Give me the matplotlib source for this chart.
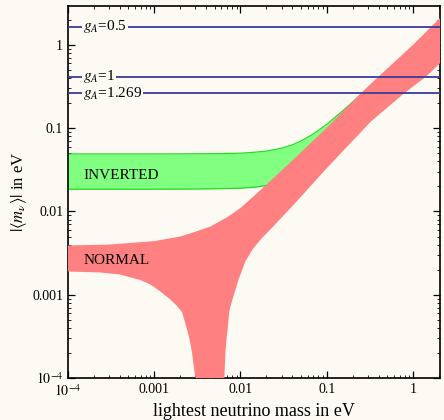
"""Effective Majorana mass vs lightest neutrino mass (normal / inverted bands)."""

import matplotlib

matplotlib.use("Agg")
import matplotlib.pyplot as plt

# --- data (eV) ---
inv_m = [1e-4, 1e-3, 0.003, 0.006, 0.01, 0.015, 0.02, 0.03, 0.04, 0.05, 0.07,
         0.1, 0.15, 0.2, 0.25, 0.35]
inv_hi = [0.049, 0.049, 0.0492, 0.0495, 0.050, 0.0515, 0.053, 0.0575, 0.063,
          0.07, 0.085, 0.111, 0.158, 0.206, 0.255, 0.353]
inv_lo = [0.0185, 0.0185, 0.0186, 0.0188, 0.019, 0.0196, 0.0205, 0.023, 0.026,
          0.03, 0.038, 0.05, 0.07, 0.09, 0.11, 0.16]

nor_top_m = [1e-4, 3e-4, 1e-3, 0.002, 0.003, 0.0045, 0.007, 0.01, 0.014, 0.02,
             0.03, 0.05, 0.1, 0.248, 0.4, 1.0, 2.06]
nor_top = [0.0039, 0.0040, 0.0044, 0.0050, 0.0057, 0.0066, 0.0085, 0.011, 0.015,
           0.021, 0.031, 0.051, 0.101, 0.261, 0.416, 1.0, 2.1]

# lower edge, left branch (down into the cancellation funnel)
nor_lo_l_m = [1e-4, 2.35e-4, 4e-4, 6.9e-4, 9e-4, 1.17e-3, 1.53e-3, 1.8e-3, 2.1e-3,
              2.4e-3, 2.57e-3, 2.74e-3, 2.85e-3, 3.0e-3]
nor_lo_l = [0.0019, 0.00185, 0.00175, 0.0015, 0.00133, 0.0011, 0.00088, 0.00075,
            0.00062, 0.000386, 0.00029, 0.000205, 0.000146, 1e-4]
# lower edge, right branch (up out of the funnel)
nor_lo_r_m = [0.0065, 0.0066, 0.0067, 0.0069, 0.0071, 0.0074, 0.0078, 0.0083,
              0.0095, 0.0114, 0.0138, 0.0171, 0.0223, 0.04, 0.1, 0.325, 0.785,
              1.42, 2.06]
nor_lo_r = [1e-4, 0.000146, 0.000205, 0.0003, 0.000386, 0.00062, 0.00078, 0.00096,
            0.00152, 0.00252, 0.0035, 0.0046, 0.0061, 0.0116, 0.033, 0.12, 0.261,
            0.416, 0.6]

ga_values = [1.64, 0.416, 0.261]
ga_labels = ["0.5", "1", "1.269"]

x_ticks = [1e-4, 1e-3, 1e-2, 1e-1, 1]
x_ticklabels = [r"$10^{-4}$", "0.001", "0.01", "0.1", "1"]
y_ticks = [1e-4, 1e-3, 1e-2, 1e-1, 1]
y_ticklabels = [r"$10^{-4}$", "0.001", "0.01", "0.1", "1"]

BG = "#fcfaf2"

plt.rcParams["font.family"] = ["Liberation Serif", "DejaVu Serif"]
plt.rcParams["mathtext.fontset"] = "stix"

fig = plt.figure(figsize=(4.44, 4.2), dpi=100, facecolor=BG)
ax = fig.add_axes([68 / 444, 42 / 420, 372 / 444, 372 / 420])
ax.set_facecolor(BG)
ax.set_xscale("log")
ax.set_yscale("log")

# inverted band
ax.fill_between(inv_m, inv_lo, inv_hi, color="#80ff80", lw=0, zorder=2)
ax.plot(inv_m, inv_hi, color="#22dd22", lw=0.9, zorder=2)
ax.plot(inv_m, inv_lo, color="#22dd22", lw=0.9, zorder=2)

# normal band: polygon in data coords (top edge forward, lower edge back)
poly_x = nor_top_m + nor_lo_r_m[::-1] + nor_lo_l_m[::-1]
poly_y = nor_top + nor_lo_r[::-1] + nor_lo_l[::-1]
ax.fill(poly_x, poly_y, color="#ff8080", lw=0, zorder=3)

# g_A lines
for val, lab in zip(ga_values, ga_labels):
    ax.axhline(val, color="#3a3a9a", lw=1.3, zorder=4)
    ax.text(0.04, val, r"$g_A$=" + lab, transform=ax.get_yaxis_transform(),
            ha="left", va="center", fontsize=11, zorder=5,
            bbox=dict(facecolor=BG, edgecolor="none", pad=0.6))

ax.text(1.5e-4, 0.027, "INVERTED", fontsize=11, ha="left", va="center", zorder=5)
ax.text(1.5e-4, 0.0026, "NORMAL", fontsize=11, ha="left", va="center", zorder=5)

ax.set_xlim(1e-4, 2.06)
ax.set_ylim(1e-4, 2.93)
ax.set_xticks(x_ticks, x_ticklabels)
ax.set_yticks(y_ticks, y_ticklabels)
ax.tick_params(which="both", direction="in", top=True, right=True, labelsize=10)
ax.tick_params(which="major", length=5, width=0.9)
ax.tick_params(which="minor", length=2.5, width=0.6)
for s in ax.spines.values():
    s.set_linewidth(1.2)

ax.set_xlabel("lightest neutrino mass in eV", fontsize=13, labelpad=3)
ax.set_ylabel(r"$|\langle m_\nu\rangle|$ in eV", fontsize=12, labelpad=2)

fig.savefig("out.png", dpi=100, facecolor=BG)
